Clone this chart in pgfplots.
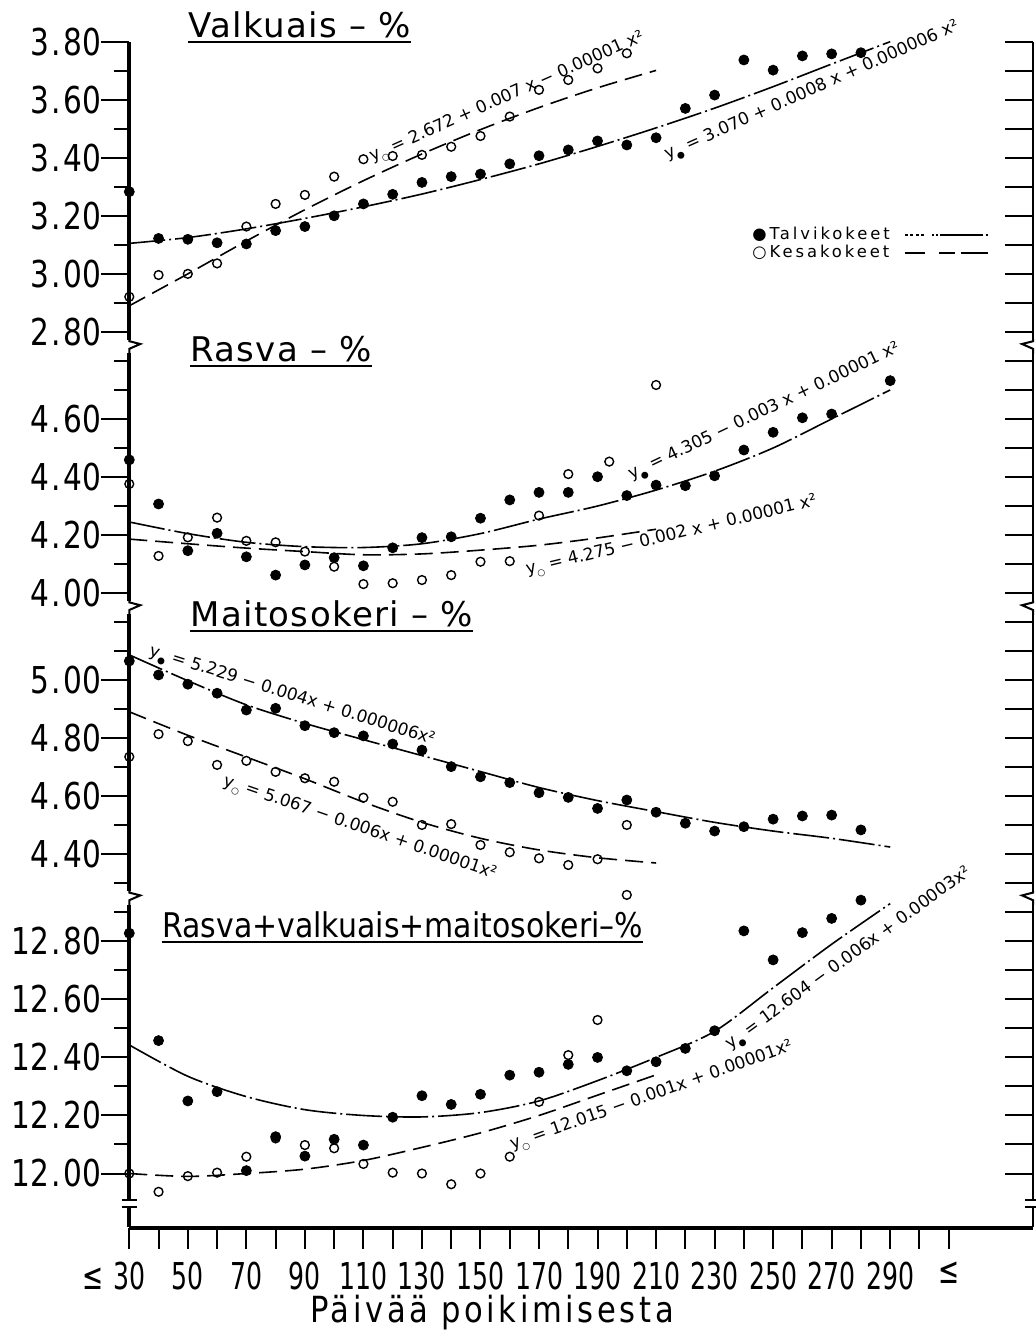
\documentclass[border=0pt]{standalone}
\usepackage{fontspec}
\setmainfont{DejaVu Sans}
\newfontfamily\tickf{DejaVu Sans}[FakeStretch=0.8]
\newfontfamily\xtickf{DejaVu Sans}[FakeStretch=0.68]
\newfontfamily\titlef{DejaVu Sans}[LetterSpace=4]
\newfontfamily\titlefn{DejaVu Sans}[FakeStretch=0.88]
\newfontfamily\eqf{DejaVu Sans}
\newfontfamily\legf{DejaVu Sans}[LetterSpace=18]
\newfontfamily\xlabf{DejaVu Sans}[FakeStretch=0.85,LetterSpace=10]
\usepackage{pgfplots}
\pgfplotsset{compat=1.18}
\usepackage{pgfplotstable}

\newcommand\tickfs{\tickf\fontsize{18.5}{20}\selectfont}
\newcommand\xtickfs{\xtickf\fontsize{18.5}{20}\selectfont}
\newcommand\yo{y\raisebox{-0.45ex}{\fontsize{4.5}{5}\selectfont ○}}
\newcommand\yw{y\raisebox{-0.45ex}{\fontsize{4.5}{5}\selectfont ●}}
\newcommand\dd[2]{#1\kern1.2pt.\kern1.2pt#2}

% ---------------- Panel 1: Valkuais-% ----------------
\pgfplotstableread{
x v
30 3.283
40 3.122
50 3.119
60 3.107
70 3.103
80 3.149
90 3.163
100 3.200
110 3.241
120 3.274
130 3.315
140 3.335
150 3.344
160 3.379
170 3.407
180 3.427
190 3.458
200 3.444
210 3.469
220 3.570
230 3.616
240 3.737
250 3.702
260 3.751
270 3.758
280 3.762
}\pAw
\pgfplotstableread{
x v
30 2.921
40 2.996
50 3.000
60 3.036
70 3.163
80 3.241
90 3.272
100 3.335
110 3.395
120 3.406
130 3.410
140 3.438
150 3.475
160 3.542
170 3.634
180 3.668
190 3.708
200 3.760
}\pAs
\pgfplotstableread{
x v
30 3.105
50 3.125
70 3.155
90 3.191
110 3.231
130 3.275
150 3.325
170 3.379
190 3.439
210 3.503
230 3.571
250 3.645
270 3.723
290 3.800
}\cAw
\pgfplotstableread{
x v
30 2.890
50 3.000
70 3.113
90 3.221
110 3.321
130 3.413
150 3.497
170 3.573
190 3.641
210 3.701
}\cAs
% ---------------- Panel 2: Rasva-% ----------------
\pgfplotstableread{
x v
30 4.459
40 4.307
50 4.146
60 4.206
70 4.125
80 4.062
90 4.097
100 4.122
110 4.094
120 4.156
130 4.191
140 4.194
150 4.258
160 4.321
170 4.347
180 4.347
190 4.401
200 4.336
210 4.372
220 4.370
230 4.404
240 4.493
250 4.554
260 4.604
270 4.617
290 4.732
}\pBw
\pgfplotstableread{
x v
30 4.376
40 4.128
50 4.192
60 4.260
70 4.180
80 4.175
90 4.143
100 4.091
110 4.031
120 4.034
130 4.045
140 4.062
150 4.108
160 4.110
170 4.267
180 4.410
194 4.453
210 4.717
}\pBs
\pgfplotstableread{
x v
30 4.245
50 4.205
70 4.175
90 4.160
110 4.157
130 4.170
150 4.205
170 4.255
190 4.300
210 4.355
230 4.420
250 4.500
270 4.600
290 4.700
}\cBw
\pgfplotstableread{
x v
30 4.186
50 4.170
70 4.155
90 4.143
110 4.132
130 4.135
150 4.148
170 4.165
190 4.190
210 4.220
}\cBs
% ---------------- Panel 3: Maitosokeri-% ----------------
\pgfplotstableread{
x v
30 5.066
40 5.018
50 4.986
60 4.955
70 4.897
80 4.903
90 4.843
100 4.819
110 4.808
120 4.780
130 4.759
140 4.702
150 4.667
160 4.647
170 4.612
180 4.596
190 4.558
200 4.587
210 4.545
220 4.507
230 4.480
240 4.495
250 4.521
260 4.532
270 4.535
280 4.484
}\pCw
\pgfplotstableread{
x v
30 4.736
40 4.814
50 4.790
60 4.708
70 4.722
80 4.684
90 4.662
100 4.650
110 4.595
120 4.581
130 4.501
140 4.504
150 4.432
160 4.407
170 4.386
180 4.363
190 4.383
200 4.501
}\pCs
\pgfplotstableread{
x v
30 5.087
50 4.998
70 4.915
90 4.851
110 4.795
130 4.740
150 4.685
170 4.630
190 4.585
210 4.547
230 4.510
250 4.480
270 4.455
290 4.425
}\cCw
\pgfplotstableread{
x v
30 4.891
50 4.810
70 4.735
90 4.660
110 4.580
130 4.510
150 4.455
170 4.415
190 4.388
210 4.370
}\cCs
% ---------------- Panel 4: Rasva+valkuais+maitosokeri-% ----------------
\pgfplotstableread{
x v
30 12.828
40 12.458
50 12.250
60 12.282
70 12.010
80 12.127
90 12.060
100 12.118
110 12.098
120 12.194
130 12.268
140 12.238
150 12.273
160 12.339
170 12.349
180 12.376
190 12.400
200 12.354
210 12.385
220 12.431
230 12.492
240 12.836
250 12.736
260 12.830
270 12.879
280 12.942
}\pDw
\pgfplotstableread{
x v
30 12.000
40 11.937
50 11.991
60 12.003
70 12.058
80 12.121
90 12.098
100 12.087
110 12.033
120 12.003
130 12.000
140 11.963
150 12.000
160 12.058
170 12.247
180 12.408
190 12.529
200 12.960
}\pDs
\pgfplotstableread{
x v
30 12.443
50 12.335
70 12.265
90 12.220
110 12.200
130 12.195
150 12.210
170 12.250
190 12.320
210 12.400
230 12.490
250 12.640
270 12.790
290 12.930
}\cDw
\pgfplotstableread{
x v
30 12.000
50 11.990
70 12.000
90 12.015
110 12.045
130 12.090
150 12.140
170 12.200
190 12.270
210 12.340
}\cDs

\tikzset{
  wmark/.style={only marks, mark=*, mark size=2.5pt, black},
  smark/.style={only marks, mark=o, mark size=2.2pt, black, mark options={fill=white, line width=0.7pt}},
  wline/.style={black, line width=0.8pt, smooth, dash pattern=on 18pt off 2pt on 1pt off 2pt},
  sline/.style={black, line width=0.8pt, smooth, dash pattern=on 9pt off 4pt},
}

\begin{document}
\begin{tikzpicture}
\useasboundingbox (-64.65pt,-52.25pt) rectangle (452.85pt,613.75pt);
\pgfplotsset{common/.style={at={(0,0)}, anchor=south west, scale only axis,
  width=451.85pt, height=592.9pt, xmin=30, xmax=338.8, ymin=-40.86, ymax=0, clip=false}}

% ---- main axis: data + left scale ----
\begin{axis}[common,
  axis x line=none, axis y line*=left,
  axis line style={line width=2pt},
  ytick={-39,-37,-35,-33,-31,-28,-26,-24,-22,-19,-17,-15,-13,-10,-8,-6,-4,-2,0},
  yticklabels={\dd{12}{00},\dd{12}{20},\dd{12}{40},\dd{12}{60},\dd{12}{80},
               \dd{4}{40},\dd{4}{60},\dd{4}{80},\dd{5}{00},
               \dd{4}{00},\dd{4}{20},\dd{4}{40},\dd{4}{60},
               \dd{2}{80},\dd{3}{00},\dd{3}{20},\dd{3}{40},\dd{3}{60},\dd{3}{80}},
  minor ytick={-38,-36,-34,-32,-30,-29,-27,-25,-23,-21,-20,-18,-16,-14,-12,-11,-9,-7,-5,-3,-1},
  tick align=outside, major tick length=14pt, minor tick length=7.5pt,
  tick style={line width=1pt, black},
  yticklabel style={font=\tickfs, inner sep=0pt},
]
% panel 1
\addplot[wline] table[x=x, y expr=10*\thisrow{v}-38] {\cAw};
\addplot[sline] table[x=x, y expr=10*\thisrow{v}-38] {\cAs};
\addplot[wmark] table[x=x, y expr=10*\thisrow{v}-38] {\pAw};
\addplot[smark] table[x=x, y expr=10*\thisrow{v}-38] {\pAs};
% panel 2
\addplot[wline] table[x=x, y expr=10*\thisrow{v}-59] {\cBw};
\addplot[sline] table[x=x, y expr=10*\thisrow{v}-59] {\cBs};
\addplot[wmark] table[x=x, y expr=10*\thisrow{v}-59] {\pBw};
\addplot[smark] table[x=x, y expr=10*\thisrow{v}-59] {\pBs};
% panel 3
\addplot[wline] table[x=x, y expr=10*\thisrow{v}-72] {\cCw};
\addplot[sline] table[x=x, y expr=10*\thisrow{v}-72] {\cCs};
\addplot[wmark] table[x=x, y expr=10*\thisrow{v}-72] {\pCw};
\addplot[smark] table[x=x, y expr=10*\thisrow{v}-72] {\pCs};
% panel 4
\addplot[wline] table[x=x, y expr=10*\thisrow{v}-159] {\cDw};
\addplot[sline] table[x=x, y expr=10*\thisrow{v}-159] {\cDs};
\addplot[wmark] table[x=x, y expr=10*\thisrow{v}-159] {\pDw};
\addplot[smark] table[x=x, y expr=10*\thisrow{v}-159] {\pDs};
% axis breaks (left)
\pgfplotsinvokeforeach{-10.5,-19.5,-29.5}{
  \fill[white] ([xshift=-2pt,yshift=-3.4pt]axis cs:30,#1) rectangle ([xshift=2pt,yshift=3.4pt]axis cs:30,#1);
  \draw[line width=1pt] ([yshift=3.6pt]axis cs:30,#1) -- ([yshift=2.6pt]axis cs:30,#1)
     -- ([xshift=5.5pt,yshift=1.2pt]axis cs:30,#1) -- ([yshift=-1.2pt]axis cs:30,#1) -- ([yshift=-3.6pt]axis cs:30,#1);
}
\fill[white] ([xshift=-2pt,yshift=-1.8pt]axis cs:30,-40.03) rectangle ([xshift=2pt,yshift=1.8pt]axis cs:30,-40.03);
\draw[line width=1pt] ([xshift=-3.8pt,yshift=1.8pt]axis cs:30,-40.03) -- ([xshift=3.8pt,yshift=1.8pt]axis cs:30,-40.03);
\draw[line width=1pt] ([xshift=-3.8pt,yshift=-1.8pt]axis cs:30,-40.03) -- ([xshift=3.8pt,yshift=-1.8pt]axis cs:30,-40.03);
\end{axis}

% ---- x axis ----
\begin{axis}[common,
  axis y line=none, axis x line*=bottom,
  axis line style={line width=2pt},
  xtick={30,40,...,310},
  xticklabels={\llap{≤\kern5pt}30,,50,,70,,90,,110,,130,,150,,170,,190,,210,,230,,250,,270,,290,,≤},
  tick align=outside, major tick length=10.5pt,
  tick style={line width=1pt, black},
  xticklabel style={font=\xtickfs, inner sep=0pt, yshift=-6.5pt},
]
\end{axis}

% ---- right scale ----
\begin{axis}[common,
  axis x line=none, axis y line*=right,
  axis line style={line width=1.2pt},
  ytick={-39,-38,...,0}, yticklabels={},
  tick align=inside, major tick length=14pt,
  tick style={line width=1pt, black},
]
\pgfplotsinvokeforeach{-10.5,-19.5,-29.5}{
  \fill[white] ([xshift=-2pt,yshift=-3.4pt]axis cs:338.8,#1) rectangle ([xshift=2pt,yshift=3.4pt]axis cs:338.8,#1);
  \draw[line width=1pt] ([yshift=3.6pt]axis cs:338.8,#1) -- ([yshift=2.6pt]axis cs:338.8,#1)
     -- ([xshift=-5.5pt,yshift=1.2pt]axis cs:338.8,#1) -- ([yshift=-1.2pt]axis cs:338.8,#1) -- ([yshift=-3.6pt]axis cs:338.8,#1);
}
\fill[white] ([xshift=-2pt,yshift=-1.8pt]axis cs:338.8,-40.03) rectangle ([xshift=2pt,yshift=1.8pt]axis cs:338.8,-40.03);
\draw[line width=1pt] ([xshift=-3.8pt,yshift=1.8pt]axis cs:338.8,-40.03) -- ([xshift=3.8pt,yshift=1.8pt]axis cs:338.8,-40.03);
\draw[line width=1pt] ([xshift=-3.8pt,yshift=-1.8pt]axis cs:338.8,-40.03) -- ([xshift=3.8pt,yshift=-1.8pt]axis cs:338.8,-40.03);
\end{axis}

% ---- titles ----
\tikzset{ttl/.style={anchor=base west, inner sep=0pt, font=\titlef\fontsize{17}{18}\selectfont}}
\node[ttl] (t1) at (29.35pt,594.75pt) {Valkuais – \%};
\node[ttl] (t2) at (30.35pt,432.75pt) {Rasva – \%};
\node[ttl] (t3) at (30.35pt,300.25pt) {Maitosokeri – \%};
\node[ttl, font=\titlefn\fontsize{17}{18}\selectfont] (t4) at (16.35pt,144.75pt) {Rasva+valkuais+maitosokeri–\%};
\foreach \t in {t1,t2,t3,t4}{
  \draw[line width=0.9pt] ([yshift=-2.2pt]\t.base west) -- ([yshift=-2.2pt]\t.base east);
}

% ---- regression equations ----
\tikzset{eq/.style={anchor=base west, inner sep=0pt, font=\eqf\fontsize{8.5}{9}\selectfont}}
\node[eq, rotate=24]   at (121.35pt,532.75pt) {\yo\ = 2.672 + 0.007 x − 0.00001 x²};
\node[eq, rotate=24]   at (268.85pt,533.75pt) {\yw\ = 3.070 + 0.0008 x + 0.000006 x²};
\node[eq, rotate=25.5] at (250.85pt,373.75pt) {\yw\ = 4.305 − 0.003 x + 0.00001 x²};
\node[eq, rotate=13.5] at (198.85pt,326.25pt) {\yo\ = 4.275 − 0.002 x + 0.00001 x²};
\node[eq, rotate=-17.5] at (9.35pt,286.25pt) {\yw\ = 5.229 − 0.004x + 0.000006x²};
\node[eq, rotate=-19]  at (46.35pt,221.25pt) {\yo\ = 5.067 − 0.006x + 0.00001x²};
\node[eq, rotate=36]   at (300.35pt,88.75pt) {\yw\ = 12.604 − 0.006x + 0.00003x²};
\node[eq, rotate=19.5] at (191.35pt,38.75pt) {\yo\ = 12.015 − 0.001x + 0.00001x²};

% ---- legend ----
\tikzset{lg/.style={anchor=base west, inner sep=0pt, font=\legf\fontsize{8.2}{9}\selectfont}}
\node[lg] at (311.35pt,493.75pt) {●Talvikokeet};
\node[lg] at (311.35pt,484.75pt) {○Kesakokeet};
\draw[black, line width=0.8pt, dash pattern=on 1.5pt off 1.2pt on 1.5pt off 1.2pt on 1.5pt off 1.2pt on 1.5pt off 4pt on 1pt off 1pt on 1pt off 1pt on 20pt off 0pt] (387.85pt,496.25pt) -- (429.35pt,496.25pt);
\draw[black, line width=0.8pt, dash pattern=on 10pt off 7pt on 8pt off 3pt on 14pt off 0pt] (387.85pt,487.25pt) -- (429.35pt,487.25pt);

% ---- x label ----
\node[anchor=center, inner sep=0pt, font=\xlabf\fontsize{18}{20}\selectfont] at (181.35pt,-42.5pt) {Päivää poikimisesta};
\end{tikzpicture}
\end{document}
